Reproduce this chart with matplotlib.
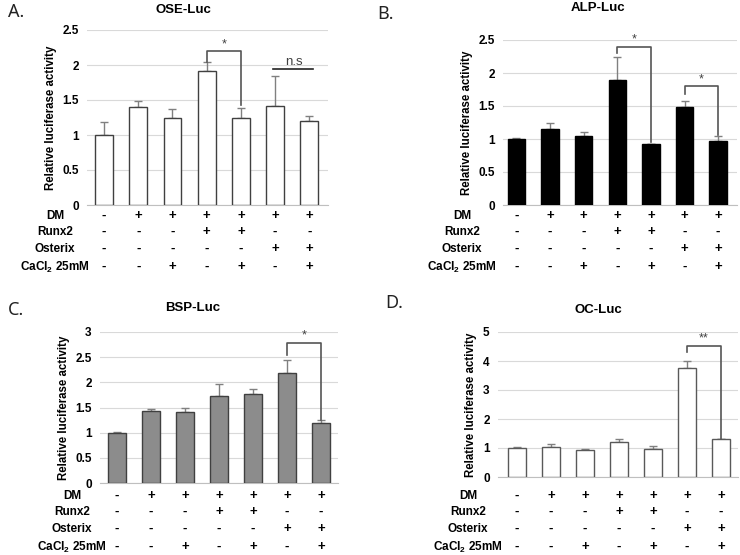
import matplotlib
matplotlib.use("Agg")
import matplotlib.pyplot as plt
from matplotlib.transforms import blended_transform_factory

plt.rcParams["font.family"] = ["Liberation Sans", "DejaVu Sans"]
plt.rcParams["mathtext.fontset"] = "custom"
plt.rcParams["mathtext.rm"] = "Liberation Sans:bold"
plt.rcParams["mathtext.default"] = "rm"

# conditions table (same for all panels)
row_labels = ["DM", "Runx2", "Osterix", r"CaCl$_2$ 25mM"]
dm = ["-", "+", "+", "+", "+", "+", "+"]
runx2 = ["-", "-", "-", "+", "+", "-", "-"]
osterix = ["-", "-", "-", "-", "-", "+", "+"]
cacl2 = ["-", "-", "+", "-", "+", "-", "+"]

# panel values (mean, upper error)
ose_mean = [1.00, 1.40, 1.24, 1.91, 1.25, 1.42, 1.20]
ose_err = [0.18, 0.08, 0.13, 0.13, 0.13, 0.43, 0.07]
alp_mean = [1.00, 1.15, 1.04, 1.89, 0.92, 1.49, 0.97]
alp_err = [0.02, 0.10, 0.07, 0.35, 0.01, 0.08, 0.07]
bsp_mean = [1.00, 1.44, 1.41, 1.73, 1.76, 2.18, 1.20]
bsp_err = [0.01, 0.03, 0.09, 0.24, 0.10, 0.26, 0.05]
oc_mean = [1.00, 1.05, 0.94, 1.19, 0.96, 3.77, 1.30]
oc_err = [0.02, 0.10, 0.01, 0.12, 0.12, 0.24, 0.02]

W, H = 740, 555
fig = plt.figure(figsize=(7.4, 5.55), dpi=100)


def px_axes(l, r, b, t):
    return fig.add_axes([l / W, 1 - b / H, (r - l) / W, (b - t) / H])


def bracket(ax, x1, x2, y, y1, y2, label, ty):
    ax.plot([x1, x1, x2, x2], [y1, y, y, y2], color="#555555", lw=1.2, zorder=4)
    ax.text((x1 + x2) / 2, ty, label, ha="center", va="center", fontsize=9, color="#404040")


def panel(box, mean, err, ymax, ystep, fill, edge, title, title_xy, letter, letter_xy,
          row_ys, label_x, xlim):
    ax = px_axes(*box)
    x = list(range(len(mean)))
    ax.bar(x, mean, width=0.52, color=fill, edgecolor=edge, linewidth=1.0, zorder=3)
    ax.errorbar(x, mean, yerr=[[0] * len(err), err], fmt="none", ecolor="#808080",
                elinewidth=1.0, capsize=3, capthick=1.0, zorder=2)
    ax.set_ylim(0, ymax)
    ax.set_xlim(*xlim)
    yt = [i * ystep for i in range(int(round(ymax / ystep)) + 1)]
    ax.set_yticks(yt)
    ax.set_yticklabels([f"{v:g}" for v in yt], fontsize=8.5, fontweight="bold")
    ax.set_xticks([])
    ax.tick_params(axis="y", length=0, pad=6)
    ax.grid(axis="y", color="#d9d9d9", lw=0.8, zorder=0)
    ax.set_axisbelow(True)
    for s in ["top", "right", "left"]:
        ax.spines[s].set_visible(False)
    ax.spines["bottom"].set_color("#bfbfbf")
    ax.set_ylabel("Relative luciferase activity", fontsize=8.3, fontweight="bold", labelpad=4)
    fig.text(title_xy[0] / W, 1 - title_xy[1] / H, title, ha="center", va="center",
             fontsize=9.5, fontweight="bold")
    fig.text(letter_xy[0] / W, 1 - letter_xy[1] / H, letter, ha="left", va="center",
             fontsize=13, family=["Noto Sans", "DejaVu Sans"], color="#222222")
    trans = blended_transform_factory(ax.transData, fig.transFigure)
    for lab, row, py in zip(row_labels, [dm, runx2, osterix, cacl2], row_ys):
        fig.text(label_x / W, 1 - py / H, lab, ha="center", va="center",
                 fontsize=8.5, fontweight="bold")
        for xi, sign in zip(x, row):
            ax.text(xi, 1 - py / H, sign, transform=trans, ha="center", va="center",
                    fontsize=9.5, fontweight="bold", clip_on=False)
    return ax


rows_top = [216, 232, 249, 267]
rows_bot = [496, 512, 529, 547]

ax_a = panel((87, 328, 205, 30), ose_mean, ose_err, 2.5, 0.5, "white", "#404040",
             "OSE-Luc", (183, 10), "A.", (8, 12), rows_top, 55, (-0.5, 6.55))
bracket(ax_a, 3, 4, 2.20, 2.05, 1.43, "*", 2.29)
ax_a.plot([5 - 0.05, 6 + 0.1], [1.94, 1.94], color="#222222", lw=1.2)
ax_a.text(5.55, 2.04, "n.s", ha="center", va="center", fontsize=9.5, color="#404040")

ax_b = panel((503, 737, 205, 40), alp_mean, alp_err, 2.5, 0.5, "black", "black",
             "ALP-Luc", (598, 8), "B.", (377, 14), rows_top, 462, (-0.4, 6.56))
bracket(ax_b, 3, 4, 2.39, 2.30, 0.96, "*", 2.51)
bracket(ax_b, 5, 6, 1.80, 1.68, 1.06, "*", 1.90)

ax_c = panel((100, 338, 483, 332), bsp_mean, bsp_err, 3, 0.5, "#8c8c8c", "#404040",
             "BSP-Luc", (193, 308), "C.", (8, 310), rows_bot, 72, (-0.5, 6.5))
bracket(ax_c, 5, 6, 2.79, 2.55, 1.25, "*", 2.93)

ax_d = panel((498, 738, 477, 332), oc_mean, oc_err, 5, 1, "white", "#595959",
             "OC-Luc", (598, 310), "D.", (385, 303), rows_bot, 468, (-0.56, 6.5))
bracket(ax_d, 5, 6, 4.53, 4.31, 1.31, "**", 4.77)

fig.savefig("out.png", dpi=100)
